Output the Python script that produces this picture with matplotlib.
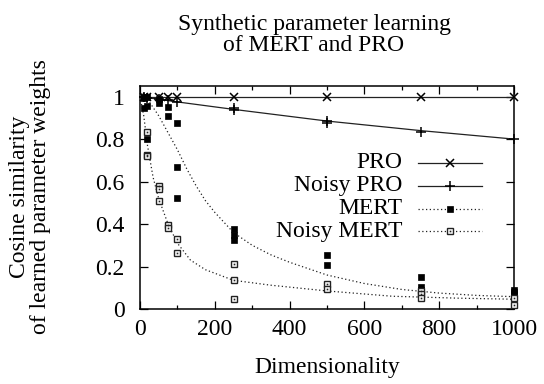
import matplotlib
matplotlib.use("Agg")
import matplotlib.pyplot as plt
from matplotlib.lines import Line2D
from matplotlib.ticker import MultipleLocator, FuncFormatter

plt.rcParams['font.family'] = ['Liberation Serif', 'DejaVu Serif']
FS = 17

# ---- data ----
pro_x = [10, 20, 50, 75, 100, 250, 500, 750, 1000]
pro_y = [1.0, 1.0, 1.0, 1.0, 1.0, 1.0, 1.0, 1.0, 1.0]

npro_x = [10, 20, 50, 75, 100, 250, 250, 500, 500, 750, 1000]
npro_y = [1.0, 0.995, 0.99, 0.985, 0.975, 0.945, 0.935, 0.885, 0.875, 0.835, 0.80]

mert_x = [10, 10, 10, 20, 20, 20, 50, 50, 75, 75, 100, 100, 100,
          250, 250, 250, 500, 500, 500, 750, 750, 750, 1000, 1000, 1000]
mert_y = [1.0, 0.995, 0.945, 1.0, 0.955, 0.80, 0.99, 0.97, 0.95, 0.91, 0.875, 0.67, 0.525,
          0.375, 0.35, 0.325, 0.255, 0.205, 0.10, 0.15, 0.105, 0.09, 0.09, 0.08, 0.07]

nmert_x = [20, 20, 20, 50, 50, 50, 75, 75, 100, 100,
           250, 250, 250, 500, 500, 750, 750, 750, 1000, 1000]
nmert_y = [0.835, 0.725, 0.72, 0.58, 0.565, 0.51, 0.395, 0.38, 0.33, 0.265,
           0.21, 0.135, 0.048, 0.12, 0.095, 0.085, 0.07, 0.05, 0.05, 0.02]

# fitted curves
pro_fit_x = [0, 1000]
pro_fit_y = [1.0, 1.0]
npro_fit_x = [0, 100, 250, 500, 750, 1000]
npro_fit_y = [1.0, 0.975, 0.94, 0.885, 0.84, 0.80]
mert_fit_x = [0, 25, 50, 75, 100, 125, 150, 175, 200, 250, 300, 350, 400, 500, 600, 700, 800, 900, 1000]
mert_fit_y = [1.0, 0.975, 0.91, 0.83, 0.75, 0.66, 0.58, 0.51, 0.455, 0.36, 0.30, 0.255, 0.22,
              0.16, 0.12, 0.092, 0.075, 0.064, 0.058]
nmert_fit_x = [0, 10, 20, 35, 50, 75, 100, 135, 175, 250, 350, 500, 675, 850, 1000]
nmert_fit_y = [1.0, 0.91, 0.77, 0.62, 0.52, 0.40, 0.31, 0.23, 0.185, 0.135, 0.112, 0.085, 0.06, 0.051, 0.046]

labels = ['PRO', 'Noisy PRO', 'MERT', 'Noisy MERT']
title = 'Synthetic parameter learning\nof MERT and PRO'
xlabel = 'Dimensionality'
ylabel = 'Cosine similarity\nof learned parameter weights'

fig = plt.figure(figsize=(5.44, 3.84), dpi=100)
ax = fig.add_axes([140/544, 1-309/384, 374/544, 223/384])

LC = '#222222'
lw = 0.9
dotted = (0, (1, 2))
styles = [
    dict(ls='-', marker='x', ms=5.5, mew=1.1, mfc='black', mec='black'),
    dict(ls='-', marker='+', ms=6.5, mew=1.1, mfc='black', mec='black'),
    dict(ls=dotted, marker='s', ms=4.5, mew=0.5, mfc='black', mec='black'),
    dict(ls=dotted, marker='s', ms=5, mew=1.0, mfc='white', mec=LC),
]

fits = [(pro_fit_x, pro_fit_y), (npro_fit_x, npro_fit_y),
        (mert_fit_x, mert_fit_y), (nmert_fit_x, nmert_fit_y)]
pts = [(pro_x, pro_y), (npro_x, npro_y), (mert_x, mert_y), (nmert_x, nmert_y)]

for (fx, fy), st in zip(fits, styles):
    ax.plot(fx, fy, color=LC, lw=lw, ls=st['ls'], clip_on=False)
for (px, py), st in zip(pts, styles):
    ax.plot(px, py, ls='none', marker=st['marker'], ms=st['ms'], mew=st['mew'],
            mfc=st['mfc'], mec=st['mec'], clip_on=False, zorder=3)
ax.plot(nmert_x, nmert_y, ls='none', marker='s', ms=1.2, mew=0, color=LC, clip_on=False, zorder=4)

# gnuplot-style key: right-aligned labels, sample line to the right
tr = ax.transAxes
row_px = [162.7, 185.5, 208.5, 231]
for lab, st, rp in zip(labels, styles, row_px):
    yy = (309 - rp) / 223
    ax.text((402 - 140) / 374, yy, lab, transform=tr, ha='right', va='center', fontsize=FS)
    ax.add_line(Line2D([(418 - 140) / 374, (482 - 140) / 374], [yy, yy], transform=tr,
                       color=LC, lw=lw, ls=st['ls']))
    extra = {}
    ax.add_line(Line2D([(450 - 140) / 374], [yy], transform=tr, ls='none', marker=st['marker'],
                       ms=st['ms'], mew=st['mew'], mfc=st['mfc'], mec=st['mec']))
    if lab == 'Noisy MERT':
        ax.add_line(Line2D([(450 - 140) / 374], [yy], transform=tr, ls='none', marker='s',
                           ms=1.2, mew=0, color=LC))

ax.set_xlim(0, 1000)
ax.set_ylim(0, 1.05)
ax.xaxis.set_major_locator(MultipleLocator(200))
ax.xaxis.set_minor_locator(MultipleLocator(100))
ax.yaxis.set_major_locator(MultipleLocator(0.2))
ax.yaxis.set_major_formatter(FuncFormatter(lambda v, p: f'{v:g}'))
ax.tick_params(which='both', direction='in', top=True, right=True, labelsize=FS, width=0.9)
ax.tick_params(which='major', length=6)
ax.tick_params(which='minor', length=3)
ax.tick_params(axis='y', pad=11)
ax.tick_params(axis='x', pad=7)
for s in ax.spines.values():
    s.set_linewidth(1.1)

fig.text(314/544, 1-35/384, title, ha='center', va='center', fontsize=FS, linespacing=1.0)
fig.text(327/544, 1-367/384, xlabel, ha='center', va='center', fontsize=FS)
fig.text(30/544, 1-197/384, ylabel, ha='center', va='center', rotation=90, fontsize=FS,
         linespacing=1.0, multialignment='center')

fig.savefig('out.png', dpi=100)
